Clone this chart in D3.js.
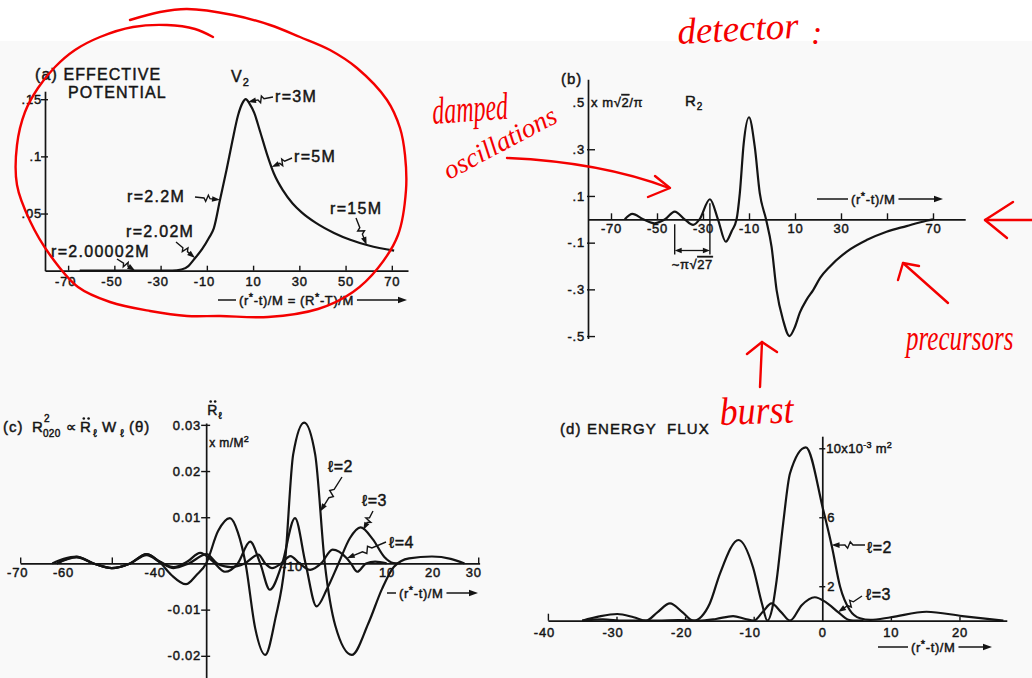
<!DOCTYPE html>
<html>
<head>
<meta charset="utf-8">
<title>Radiation from a particle falling into a black hole</title>
<script src="https://cdn.jsdelivr.net/npm/d3@7"></script>
<style>
  html, body { margin: 0; padding: 0; background: #fff; }
  svg { display: block; }
  .ink text { stroke: #141414; stroke-width: 0.45px; }
</style>
</head>
<body>
<svg id="fig" width="1032" height="678"></svg>
<script>
// ---------------- data ----------------
// (a) effective potential V2 against (r*-t)/M
const potX = [-65, -40, -25, -21, -18, -15.5, -12, -9, -7, -4.3, -1.5, 1, 3.5, 5.5, 6.8, 8.5, 10.5, 13, 16, 19, 23, 27, 31, 37, 45, 52, 60, 71];
const potV = [0, 0, 0, 0.001, 0.004, 0.010, 0.019, 0.029, 0.037, 0.062, 0.088, 0.113, 0.136, 0.147, 0.150, 0.146, 0.138, 0.122, 0.102, 0.085, 0.070, 0.059, 0.051, 0.042, 0.033, 0.027, 0.022, 0.0175];

// (b) waveform R2, in units of m*sqrt(2)/pi
const waveX = [-64, -60.7, -56, -51, -46.5, -42.3, -38, -34.3, -31.5, -27, -23.5, -20.1, -17.5, -15.4, -14, -12.3, -10, -7.5, -5.3, -2.6, -0.2, 2, 4.8, 7.6, 10, 12.1, 15, 17.9, 21, 25.1, 32.4, 41.1, 49.8, 58.5, 67.2, 70];
const waveR = [0, 0.023, 0, -0.017, 0, 0.033, 0, -0.024, 0, 0.086, 0, -0.096, -0.05, 0, 0.111, 0.325, 0.437, 0.311, 0.111, 0, -0.117, -0.303, -0.431, -0.50, -0.46, -0.40, -0.345, -0.303, -0.25, -0.203, -0.139, -0.089, -0.053, -0.029, -0.006, 0];
// successive ringing crests marked with the period bracket
const ringCrests = [-42.3, -27];

// (c) second time derivative of R_l, units m/M^2
const accX2 = [-63, -60.5, -57.7, -54, -50, -46, -42.4, -39.5, -37, -33.8, -31.5, -29.4, -26.8, -24.2, -22.5, -20.8, -18.7, -16.5, -14.3, -12.2, -10.4, -8, -5.6, -3.5, -1.2, 2.4, 6, 9, 11.6, 14.9, 19.9, 24, 27];
const accR2 = [0, 0.0010, 0.0015, 0, -0.0010, 0, 0.0020, 0.0002, -0.0025, -0.0045, -0.0025, 0, 0.0070, 0.0098, 0.0068, 0, -0.0140, -0.0198, -0.0120, 0, 0.0236, 0.0305, 0.0236, 0, -0.0135, -0.0198, -0.0130, -0.0055, -0.0007, 0.0011, 0.0015, 0.0010, 0];
const accX3 = [-62, -57.7, -54, -50, -46, -42.4, -39.5, -36.5, -33.5, -30.7, -28, -25.3, -22.5, -19.8, -17.6, -15.5, -12.8, -10, -7.7, -5.3, -3, -0.5, 2, 4.3, 7, 9.5, 11.5, 13];
const accR3 = [0, 0.0013, 0, -0.0010, 0, 0.0020, 0.0004, -0.0008, 0.0004, 0.0023, 0.0005, -0.0018, 0, 0.0047, 0, -0.0057, 0, 0.0098, 0, -0.0093, -0.0055, 0, 0.0055, 0.0078, 0.0052, 0.0014, 0.0001, 0];
const accX4 = [-62, -57.7, -54, -50, -46, -42.4, -39.5, -36.5, -33.2, -29.3, -27, -24, -21, -18, -16.5, -15, -13, -11, -9, -6.7, -4.3, -1.8, 1.3, 2.2, 3.6, 5.5, 7.5, 10];
const accR4 = [0, 0.0014, 0, -0.0010, 0, 0.0018, 0.0003, -0.0010, 0, 0.0020, 0, -0.0008, 0, 0.0019, 0, -0.0010, 0, 0.0016, 0, -0.0014, 0, 0.0030, 0.0011, 0, -0.0018, 0, 0.0004, 0];

// (d) energy flux, units 10^-3 m^2
const fluxX2 = [-35, -32.5, -29.9, -27.5, -25.7, -24, -22.2, -20.4, -18.8, -17.6, -16.4, -14.9, -12.2, -10.1, -8.8, -8.0, -7.3, -6.65, -5.7, -4.7, -2.4, 0.15, 1.4, 2.6, 4.0, 5.5, 7, 10, 15.2, 20.4, 26.4];
const fluxE2 = [0, 0.25, 0.39, 0.2, 0, 0.5, 1.0, 0.5, 0, 0.25, 1.0, 2.75, 4.68, 3.1, 1.0, 0, 0.7, 2.36, 5.65, 8.55, 10.05, 6.4, 4.3, 1.97, 0.62, 0.14, 0.05, 0.2, 0.52, 0.27, 0];
const fluxX3 = [-35, -32, -29, -24, -21, -18, -15.5, -13, -11.2, -10, -8.7, -7.4, -6, -4.7, -3, -1.1, 0.6, 2.3, 3.8, 4.5, 6];
const fluxE3 = [0, 0.08, 0, 0, 0.04, 0, 0.1, 0.27, 0.1, 0, 0.5, 1.0, 0.5, 0, 0.9, 1.36, 1.05, 0.5, 0.05, 0, 0];

// tick values and labels
const ticksAx = [-70, -50, -30, -10, 10, 30, 50, 70];
const ticksAy = [0.05, 0.1, 0.15];
const ticksBx = [-70, -50, -30, -10, 10, 30, 50, 70];
const labelsBx = [-70, -50, -30, -10, 10, 30, 70];
const ticksBy = [0.5, 0.3, 0.1, -0.1, -0.3, -0.5];
const ticksCx = [-70, -50, 30];
const labelsCx = [-70, -60, -40, -10, 10, 20, 30];
const ticksCy = [0.03, 0.02, 0.01, -0.01, -0.02];
const labelsDx = [-40, -30, -20, -10, 0, 10, 20];
const ticksDy = [2, 6, 10];

// ---------------- drawing ----------------
const INK = "#141414";
const RED = "#f40000";
const FONT = "'Liberation Sans', 'DejaVu Sans', Arial, sans-serif";
const HAND = "'Liberation Serif', 'DejaVu Serif', serif";
const svg = d3.select("#fig");

svg.append("rect").attr("width", 1032).attr("height", 678).attr("fill", "#f9f9f9");
svg.append("rect").attr("width", 1032).attr("height", 41).attr("fill", "#ffffff");

function txt(g, x, y, s, size, opts = {}) {
  const t = g.append("text").attr("x", x).attr("y", y)
    .attr("font-family", FONT).attr("font-size", size).attr("fill", INK)
    .attr("letter-spacing", opts.ls ?? 1);
  if (opts.anchor) t.attr("text-anchor", opts.anchor);
  if (s != null) t.text(s);
  return t;
}

function styleAxis(g, size) {
  g.attr("font-family", FONT).attr("font-size", size).attr("color", INK);
  g.select(".domain").attr("stroke-width", 1.7);
  g.selectAll(".tick line").attr("stroke-width", 1.4);
  g.selectAll(".tick text").attr("letter-spacing", 0.8);
}

function curve(g, xs, ys, sx, sy) {
  const line = d3.line().x(d => sx(d[0])).y(d => sy(d[1])).curve(d3.curveMonotoneX);
  g.append("path").datum(d3.zip(xs, ys)).attr("d", line)
    .attr("fill", "none").attr("stroke", INK).attr("stroke-width", 2.2)
    .attr("stroke-linejoin", "round");
}

// value of a series at x (piecewise linear through its points)
function valueAt(xs, ys, x) {
  return d3.scaleLinear().domain(xs).range(ys)(x);
}

// label arrow with a small zig-zag in its shaft
function boltArrow(g, x1, y1, x2, y2) {
  const dx = x2 - x1, dy = y2 - y1, L = Math.hypot(dx, dy);
  const ux = dx / L, uy = dy / L, nx = -uy, ny = ux;
  const p = (t, o) => [x1 + dx * t + nx * o, y1 + dy * t + ny * o];
  const pts = [[x1, y1], p(0.36, 0), p(0.44, 3.2), p(0.52, -3.2), p(0.6, 0), [x2 - ux * 5, y2 - uy * 5]];
  g.append("path").attr("d", d3.line()(pts)).attr("fill", "none")
    .attr("stroke", INK).attr("stroke-width", 1.4);
  const b = [x2 - ux * 8 + nx * 2.8, y2 - uy * 8 + ny * 2.8];
  const c = [x2 - ux * 8 - nx * 2.8, y2 - uy * 8 - ny * 2.8];
  g.append("path").attr("d", `M${x2},${y2}L${b[0]},${b[1]}L${c[0]},${c[1]}Z`).attr("fill", INK);
}

// "——(r*-t)/M——→" axis caption
function flowLabel(g, x0, x1, xt, yc, withCapital) {
  const t = txt(g, xt, yc + 4.5, null, 13, { ls: 0.6 });
  const star = (a, b) => {
    t.append("tspan").text(a);
    t.append("tspan").attr("dy", -4).attr("font-size", 11).text("*");
    t.append("tspan").attr("dy", 4).text(b);
  };
  star("(r", "-t)/M");
  if (withCapital) star(" = (R", "-T)/M");
  const w = t.node().getComputedTextLength();
  g.append("line").attr("x1", x0).attr("x2", xt - 3).attr("y1", yc).attr("y2", yc)
    .attr("stroke", INK).attr("stroke-width", 1.5);
  g.append("line").attr("x1", xt + w + 3).attr("x2", x1 - 6).attr("y1", yc).attr("y2", yc)
    .attr("stroke", INK).attr("stroke-width", 1.5);
  g.append("path").attr("d", `M${x1},${yc}L${x1 - 9},${yc - 3.2}L${x1 - 9},${yc + 3.2}Z`).attr("fill", INK);
}

const fmtFrac = d => String(d).replace("0.", ".");

// ===== (a) effective potential =====
const gA = svg.append("g").attr("class", "ink");
const xA = d3.scaleLinear().domain([-80, 77]).range([45, 408]);
const yA = d3.scaleLinear().domain([0, 0.157]).range([270.7, 91.2]);

gA.append("g").attr("transform", `translate(0,${yA(0)})`)
  .call(d3.axisBottom(xA).tickValues(ticksAx).tickSize(-5).tickSizeOuter(0).tickPadding(6).tickFormat(d => String(d)))
  .call(g => styleAxis(g, 13))
  .call(g => g.selectAll(".tick text").attr("dx", d => d < 0 ? -3 : 0));
gA.append("g").attr("transform", `translate(${xA(-80)},0)`)
  .call(d3.axisLeft(yA).tickValues(ticksAy).tickSize(0).tickSizeOuter(0).tickPadding(3).tickFormat(fmtFrac))
  .call(g => styleAxis(g, 13))
  .call(g => g.selectAll(".tick line").attr("x1", -4).attr("x2", 3));

curve(gA, potX, potV, xA, yA);

txt(gA, 35, 80, "(a) EFFECTIVE", 16, { ls: 1.1 });
txt(gA, 68, 98, "POTENTIAL", 16, { ls: 1.1 });
const v2 = txt(gA, 231, 82, "V", 16);
v2.append("tspan").attr("dy", 4).attr("font-size", 11).text("2");

const annA = [
  { t: "r=3M", lx: 275, ly: 102, sx: 273, sy: 97, at: 7.8 },
  { t: "r=5M", lx: 294, ly: 162, sx: 292, sy: 158, at: 18 },
  { t: "r=2.2M", lx: 127, ly: 202, sx: 195, sy: 197, at: -4.3 },
  { t: "r=2.02M", lx: 126, ly: 237, sx: 176, sy: 242, at: -15.1 },
  { t: "r=2.00002M", lx: 51, ly: 257, sx: 117, sy: 259, at: -41 },
  { t: "r=15M", lx: 330, ly: 214, sx: 356, sy: 218, at: 59.1 }
];
annA.forEach(a => {
  txt(gA, a.lx, a.ly, a.t, 16, { ls: 1.3 });
  boltArrow(gA, a.sx, a.sy, xA(a.at), yA(valueAt(potX, potV, a.at)));
});
flowLabel(gA, 218, 407, 239, 300, true);

// ===== (b) waveform R2 =====
const gB = svg.append("g").attr("class", "ink");
const xB = d3.scaleLinear().domain([-80, 84]).range([588, 965.2]);
const yB = d3.scaleLinear().domain([-0.51, 0.6]).range([338.4, 79.2]);

gB.append("g").attr("transform", `translate(0,${yB(0)})`)
  .call(d3.axisBottom(xB).tickValues(ticksBx).tickSize(-6).tickSizeOuter(0).tickPadding(4.5)
    .tickFormat(d => labelsBx.includes(d) ? String(d) : ""))
  .call(g => styleAxis(g, 13));
gB.append("g").attr("transform", `translate(${xB(-80)},0)`)
  .call(d3.axisLeft(yB).tickValues(ticksBy).tickSize(0).tickSizeOuter(0).tickPadding(3).tickFormat(fmtFrac))
  .call(g => styleAxis(g, 13))
  .call(g => g.selectAll(".tick line").attr("x1", d => d === 0.5 ? 0 : -1).attr("x2", d => d === 0.5 ? 0 : 7));

curve(gB, waveX, waveR, xB, yB);

txt(gB, 561, 84, "(b)", 15);
const unitB = txt(gB, xB(-80) + 3, yB(0.5) + 4.5, null, 13, { ls: 0.6 });
unitB.append("tspan").text("x m√");
unitB.append("tspan").attr("text-decoration", "overline").text("2");
unitB.append("tspan").text("/π");
const r2 = txt(gB, 685, 106, "R", 15);
r2.append("tspan").attr("dy", 4).attr("font-size", 10).text("2");
flowLabel(gB, 817, 943, 851, 199, false);

// period bracket between two ringing crests
const bxL = xB(ringCrests[0]), bxR = xB(ringCrests[1]), by = 250.5;
gB.append("line").attr("x1", bxL).attr("x2", bxL).attr("y1", yB(0) + 5).attr("y2", by + 4)
  .attr("stroke", INK).attr("stroke-width", 1.4);
gB.append("line").attr("x1", bxR).attr("x2", bxR).attr("y1", yB(valueAt(waveX, waveR, ringCrests[1])) + 4).attr("y2", by + 4)
  .attr("stroke", INK).attr("stroke-width", 1.4);
gB.append("line").attr("x1", bxL + 5).attr("x2", bxR - 5).attr("y1", by).attr("y2", by)
  .attr("stroke", INK).attr("stroke-width", 1.3);
gB.append("path").attr("d", `M${bxL},${by}L${bxL + 7},${by - 2.8}L${bxL + 7},${by + 2.8}Z`).attr("fill", INK);
gB.append("path").attr("d", `M${bxR},${by}L${bxR - 7},${by - 2.8}L${bxR - 7},${by + 2.8}Z`).attr("fill", INK);
const per = txt(gB, (bxL + bxR) / 2, 269, null, 13, { ls: 0.6, anchor: "middle" });
per.append("tspan").text("~π√");
per.append("tspan").attr("text-decoration", "overline").text("27");

// ===== (c) R-double-dot for l = 2, 3, 4 =====
const gC = svg.append("g").attr("class", "ink");
const xC = d3.scaleLinear().domain([-70, 30.3]).range([20.2, 479.6]);
const yC = d3.scaleLinear().domain([-0.0248, 0.0304]).range([678, 423]);
const axisXC = -29.4;

gC.append("g").attr("transform", `translate(0,${yC(0)})`)
  .call(d3.axisBottom(xC).tickValues(ticksCx).tickSize(-6).tickSizeOuter(0).tickFormat(""))
  .call(g => styleAxis(g, 13));
gC.append("g").attr("transform", `translate(0,${yC(0)})`)
  .call(d3.axisBottom(xC).tickValues(labelsCx).tickSize(0).tickPadding(4.3).tickFormat(d => String(d)))
  .call(g => styleAxis(g, 13))
  .call(g => g.select(".domain").remove())
  .call(g => g.selectAll(".tick text")
    .attr("dx", d => d === 30 ? -5 : (d < 0 ? -3 : 0))
    .attr("dy", d => d === -10 ? "0.25em" : "0.71em"));
gC.append("g").attr("transform", `translate(${xC(axisXC)},0)`)
  .call(d3.axisLeft(yC).tickValues(ticksCy).tickSize(0).tickSizeOuter(0).tickPadding(5).tickFormat(d => String(d)))
  .call(g => styleAxis(g, 13))
  .call(g => g.selectAll(".tick line").attr("x1", -5).attr("x2", 4));

curve(gC, accX4, accR4, xC, yC);
curve(gC, accX3, accR3, xC, yC);
curve(gC, accX2, accR2, xC, yC);

// title  (c) R^2_020 ∝ R̈_l W_l(θ)
txt(gC, 3, 432, "(c)", 15);
txt(gC, 32, 432, "R", 15);
txt(gC, 44, 422, "2", 10, { ls: 0 });
txt(gC, 43, 437, "020", 10, { ls: 0.3 });
txt(gC, 66, 432, "∝", 15);
txt(gC, 80, 432, "R", 15);
gC.append("circle").attr("cx", 83.8).attr("cy", 418.5).attr("r", 1.3).attr("fill", INK);
gC.append("circle").attr("cx", 88.6).attr("cy", 418.5).attr("r", 1.3).attr("fill", INK);
txt(gC, 93, 437, "ℓ", 11, { ls: 0 });
txt(gC, 102, 432, "W", 15);
txt(gC, 120, 437, "ℓ", 11, { ls: 0 });
txt(gC, 129, 432, "(θ)", 15);

// y label
const yAxisPx = xC(axisXC);
txt(gC, yAxisPx + 1, 415, "R", 14);
gC.append("circle").attr("cx", yAxisPx + 4.5).attr("cy", 401.5).attr("r", 1.3).attr("fill", INK);
gC.append("circle").attr("cx", yAxisPx + 9).attr("cy", 401.5).attr("r", 1.3).attr("fill", INK);
txt(gC, yAxisPx + 12, 419, "ℓ", 10, { ls: 0 });
const unitC = txt(gC, yAxisPx + 3, 447, "x m/M", 12, { ls: 0.4 });
unitC.append("tspan").attr("dy", -5).attr("font-size", 9).text("2");

const annC = [
  { t: "ℓ=2", lx: 328, ly: 472, sx: 342, sy: 477, xs: accX2, ys: accR2, at: -4.5 },
  { t: "ℓ=3", lx: 362, ly: 506, sx: 373, sy: 511, xs: accX3, ys: accR3, at: 4.9 },
  { t: "ℓ=4", lx: 389, ly: 548, sx: 386, sy: 542, xs: accX4, ys: accR4, at: 1.3 }
];
annC.forEach(a => {
  txt(gC, a.lx, a.ly, a.t, 16, { ls: 0.5 });
  boltArrow(gC, a.sx, a.sy, xC(a.at), yC(valueAt(a.xs, a.ys, a.at)));
});
flowLabel(gC, 387, 478, 399, 593, false);

// ===== (d) energy flux =====
const gD = svg.append("g").attr("class", "ink");
const xD = d3.scaleLinear().domain([-40, 26.9]).range([547.9, 1006.8]);
const yD = d3.scaleLinear().domain([0, 10.7]).range([620.7, 436.2]);

gD.append("g").attr("transform", `translate(0,${yD(0)})`)
  .call(d3.axisBottom(xD).tickValues(labelsDx).tickSize(-4).tickSizeOuter(0).tickPadding(7).tickFormat(d => String(d)))
  .call(g => styleAxis(g, 13))
  .call(g => g.selectAll(".tick line").attr("y2", d => d === 0 ? 0 : (d === -40 ? -7 : -4)))
  .call(g => g.selectAll(".tick text").attr("dx", d => d < 0 ? -4 : 0));
gD.append("g").attr("transform", `translate(${xD(0)},0)`)
  .call(d3.axisRight(yD).tickValues(ticksDy).tickSize(0).tickSizeOuter(0).tickPadding(5)
    .tickFormat(d => d === 10 ? "" : String(d)))
  .call(g => styleAxis(g, 13))
  .call(g => g.selectAll(".tick line").attr("x1", -3).attr("x2", 3));
const unitD = txt(gD, xD(0) + 4, yD(10) + 5, "10x10", 13, { ls: 0.3 });
unitD.append("tspan").attr("dy", -5).attr("font-size", 9).text("-3");
unitD.append("tspan").attr("dy", 5).text(" m");
unitD.append("tspan").attr("dy", -5).attr("font-size", 9).text("2");

curve(gD, fluxX3, fluxE3, xD, yD);
curve(gD, fluxX2, fluxE2, xD, yD);

txt(gD, 560, 434, "(d) ENERGY  FLUX", 15, { ls: 1.1 }).attr("xml:space", "preserve");
const annD = [
  { t: "ℓ=2", lx: 867, ly: 553, sx: 865, sy: 545, xs: fluxX2, ys: fluxE2, at: 1.35 },
  { t: "ℓ=3", lx: 866, ly: 600, sx: 862, sy: 596, xs: fluxX3, ys: fluxE3, at: 2.3 }
];
annD.forEach(a => {
  txt(gD, a.lx, a.ly, a.t, 16, { ls: 0.5 });
  boltArrow(gD, a.sx, a.sy, xD(a.at), yD(valueAt(a.xs, a.ys, a.at)));
});
flowLabel(gD, 878, 992, 911, 647, false);

// ===== red pen notes =====
const pen = svg.append("g").attr("fill", "none").attr("stroke", RED).attr("stroke-width", 2.4)
  .attr("stroke-linecap", "round").attr("stroke-linejoin", "round");
const loopPts = [[130, 20], [160, 12], [187, 9], [233, 15], [270, 25], [300, 37], [330, 50], [357, 68], [387, 100], [400, 128], [405, 155], [406, 190], [398, 235], [378, 268], [353, 292], [318, 309], [268, 317], [220, 316], [187, 316], [150, 311], [110, 302], [78, 287], [50, 255], [30, 221], [17, 185], [17, 145], [25, 112], [38, 88], [55, 67], [75, 50], [100, 37], [133, 27], [167, 25], [195, 29], [213, 37]];
pen.append("path").attr("d", d3.line().curve(d3.curveCatmullRom)(loopPts));
// arrow to the ringing
pen.append("path").attr("d", "M507,158 Q600,162 669,188");
pen.append("path").attr("d", "M655,176 L670,188 L648,197");
// arrow to the burst
pen.append("path").attr("d", "M760,387 L762,342");
pen.append("path").attr("d", "M747,354 L762,342 L777,352");
// arrow to the precursor
pen.append("path").attr("d", "M948,303 L903,263");
pen.append("path").attr("d", "M898,280 L903,263 L919,266");
// arrow at the axis of (b)
pen.append("path").attr("d", "M1032,220 L985,220");
pen.append("path").attr("d", "M1013,202 L985,220 L1007,238");

// pen lettering: a plain italic face, stretched upright to the written height
function scrawl(x, y, s, size, rot, stretch = 1) {
  svg.append("text").attr("transform", `translate(${x},${y}) rotate(${rot}) scale(1,${stretch})`)
    .attr("font-family", HAND).attr("font-style", "italic").attr("font-size", size)
    .attr("fill", RED).text(s);
}
scrawl(678, 44, "detector", 37, -3);
scrawl(811, 44, ":", 34, 0);
scrawl(433, 124, "damped", 24, -4, 1.6);
scrawl(449, 180, "oscillations", 27, -28);
scrawl(720, 425, "burst", 36, -2, 1.1);
scrawl(906, 350, "precursors", 25, 0, 1.4);
</script>
</body>
</html>
